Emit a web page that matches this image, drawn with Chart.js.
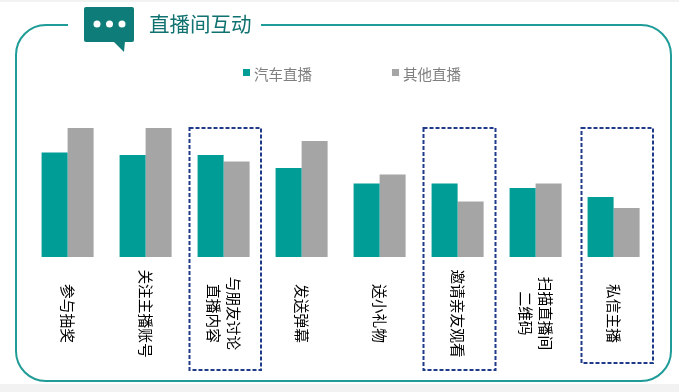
<!DOCTYPE html>
<html>
<head>
<meta charset="utf-8">
<script src="https://cdn.jsdelivr.net/npm/chart.js@4"></script>
<style>
  html, body { margin: 0; padding: 0; background: #fff; }
  canvas { display: block; }
</style>
</head>
<body>
<canvas id="live_interaction" width="679" height="392"></canvas>
<script>
const labels = ['参与抽奖', '关注主播账号', ['与朋友讨论', '直播内容'], '发送弹幕', '送小礼物', '邀请亲友观看', ['扫描直播间', '二维码'], '私信主播'];
const carLive = [81, 79, 79, 69, 57, 57, 53.5, 46.5];
const otherLive = [100, 100, 74, 90, 64, 43, 57, 38];
const seriesNames = ['汽车直播', '其他直播'];
const seriesColors = ['#009c96', '#a5a5a5'];
const FONT = '"Noto Sans CJK SC", "Noto Sans", sans-serif';

// everything around the bars: frame, title badge, dashed highlight boxes, legend, rotated labels
const decorations = {
  id: 'decorations',
  beforeDraw(chart) {
    const c = chart.ctx;
    c.save();
    c.fillStyle = '#fff';
    c.fillRect(0, 0, 679, 392);
    c.fillStyle = '#f2f2f2';
    c.fillRect(0, 0, 679, 2);
    c.fillRect(0, 384, 679, 8);

    // frame, open at the top where the title sits
    c.strokeStyle = '#1f9c97';
    c.lineWidth = 2;
    c.beginPath();
    c.moveTo(68, 25);
    c.lineTo(46, 25);
    c.arcTo(16, 25, 16, 55, 30);
    c.lineTo(16, 351);
    c.arcTo(16, 381, 46, 381, 30);
    c.lineTo(641, 381);
    c.arcTo(671, 381, 671, 351, 30);
    c.lineTo(671, 55);
    c.arcTo(671, 25, 641, 25, 30);
    c.lineTo(261, 25);
    c.stroke();

    // speech bubble
    c.fillStyle = '#0e7c78';
    c.beginPath();
    c.roundRect(84, 7, 50, 35, 2);
    c.fill();
    c.beginPath();
    c.moveTo(113, 41);
    c.lineTo(125, 41);
    c.lineTo(124, 52);
    c.closePath();
    c.fill();
    c.fillStyle = '#fff';
    [97, 109.5, 122].forEach(x => {
      c.beginPath();
      c.arc(x, 24, 3.5, 0, Math.PI * 2);
      c.fill();
    });

    c.fillStyle = '#0f7270';
    c.font = '20.5px ' + FONT;
    c.textAlign = 'left';
    c.textBaseline = 'middle';
    c.fillText('直播间互动', 149, 24);

    // legend
    const legendX = [243, 392];
    c.font = '14.5px ' + FONT;
    seriesNames.forEach((name, i) => {
      c.fillStyle = seriesColors[i];
      c.fillRect(legendX[i], 69, 7, 7);
      c.fillStyle = '#7f7f7f';
      c.fillText(name, legendX[i] + 11, 74);
    });

    c.strokeStyle = '#1f3a8a';
    c.lineWidth = 2;
    c.setLineDash([4, 2]);
    [[189.5, 128, 71.5, 242], [423.5, 128, 72, 242], [581.5, 128, 71.5, 235]].forEach(b => c.strokeRect(b[0], b[1], b[2], b[3]));
    c.restore();
  },
  afterDraw(chart) {
    const c = chart.ctx;
    const x = chart.scales.x;
    c.save();
    c.fillStyle = '#000';
    c.font = '14.7px ' + FONT;
    c.textAlign = 'center';
    c.textBaseline = 'middle';
    labels.forEach((label, i) => {
      const lines = [].concat(label);
      c.save();
      c.translate(x.getPixelForTick(i), 313.5);
      c.rotate(Math.PI / 2);
      lines.forEach((line, j) => c.fillText(line, 0, (j - (lines.length - 1) / 2) * 20.5));
      c.restore();
    });
    c.restore();
  }
};

const data = {
  labels: labels,
  datasets: [{
    label: seriesNames[0],
    data: carLive,
    backgroundColor: seriesColors[0]
  }, {
    label: seriesNames[1],
    data: otherLive,
    backgroundColor: seriesColors[1]
  }]
};

new Chart(document.getElementById('live_interaction'), {
  type: 'bar',
  data: data,
  options: {
    responsive: false,
    animation: false,
    layout: { padding: { left: 28.6, right: 26.4, top: 128, bottom: 135 } },
    categoryPercentage: 0.667,
    barPercentage: 1,
    scales: {
      x: { display: false, grid: { display: false } },
      y: { display: false, min: 0, max: 100, grid: { display: false } }
    },
    plugins: {
      legend: { display: false },
      tooltip: { enabled: false }
    }
  },
  plugins: [decorations]
});
</script>
</body>
</html>
